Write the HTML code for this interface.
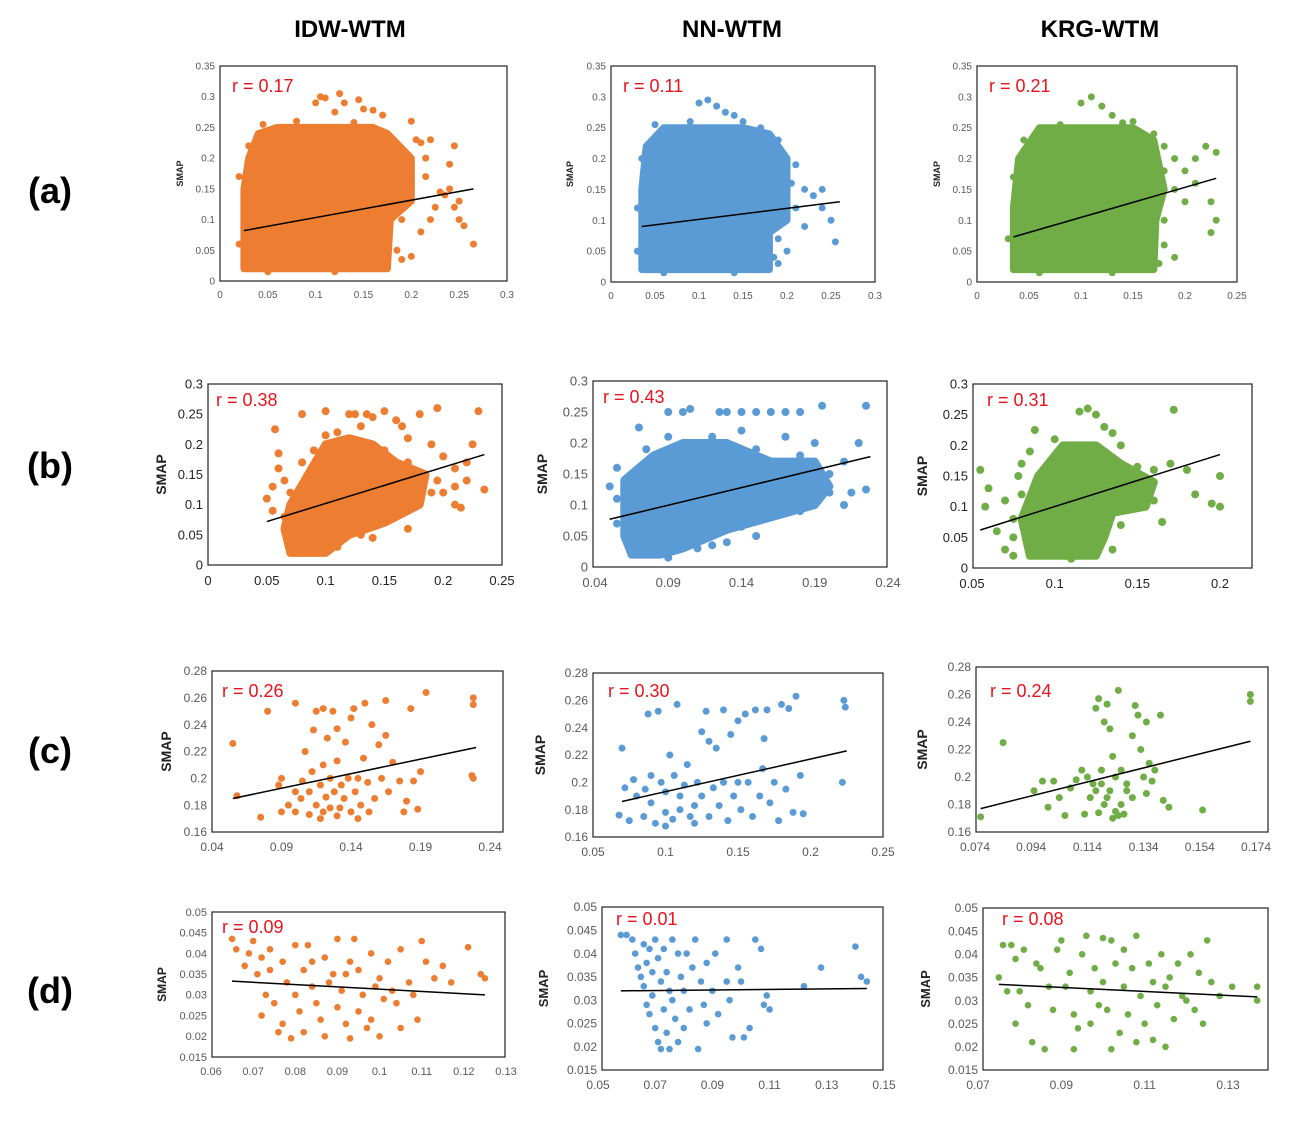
<!DOCTYPE html>
<html><head><meta charset="utf-8"><style>
body{margin:0;background:#fff;}
svg{display:block;font-family:"Liberation Sans",sans-serif;}
</style></head><body>
<svg id="fig" width="1302" height="1131" viewBox="0 0 1302 1131">
<text x="350" y="37" font-size="24" font-weight="bold" text-anchor="middle">IDW-WTM</text>
<text x="732" y="37" font-size="24" font-weight="bold" text-anchor="middle">NN-WTM</text>
<text x="1100" y="37" font-size="24" font-weight="bold" text-anchor="middle">KRG-WTM</text>
<text x="50" y="203" font-size="36" font-weight="bold" text-anchor="middle">(a)</text>
<text x="50" y="478" font-size="36" font-weight="bold" text-anchor="middle">(b)</text>
<text x="50" y="763" font-size="36" font-weight="bold" text-anchor="middle">(c)</text>
<text x="50" y="1003" font-size="36" font-weight="bold" text-anchor="middle">(d)</text>
</svg>
<script>
const ORANGE="#ED7D31",BLUE="#5B9BD5",GREEN="#70AD47";
// ---- data arrays ----
const aIdwHull=[[0.025,0.02],[0.175,0.02],[0.178,0.1],[0.2,0.13],[0.2,0.2],[0.175,0.24],[0.16,0.25],[0.06,0.25],[0.04,0.24],[0.03,0.2],[0.025,0.15]];
const aIdwPts=[[0.1,0.29],[0.105,0.3],[0.11,0.298],[0.125,0.305],[0.13,0.29],[0.145,0.295],[0.15,0.28],[0.16,0.278],[0.17,0.27],[0.12,0.275],[0.2,0.26],[0.21,0.225],[0.22,0.23],[0.215,0.2],[0.23,0.145],[0.24,0.15],[0.245,0.22],[0.24,0.19],[0.25,0.1],[0.255,0.09],[0.245,0.12],[0.25,0.13],[0.265,0.06],[0.22,0.1],[0.21,0.08],[0.2,0.04],[0.19,0.035],[0.235,0.14],[0.225,0.12],[0.215,0.17],[0.025,0.11],[0.025,0.04],[0.02,0.06],[0.02,0.17],[0.03,0.22],[0.045,0.255],[0.08,0.26],[0.14,0.258],[0.185,0.21],[0.2,0.16],[0.19,0.1],[0.185,0.05],[0.175,0.03],[0.05,0.015],[0.12,0.015],[0.205,0.23]];
const aIdwLine=[[0.025,0.082],[0.265,0.15]];
const aNnHull=[[0.035,0.02],[0.18,0.02],[0.18,0.08],[0.2,0.1],[0.2,0.2],[0.18,0.24],[0.15,0.25],[0.06,0.25],[0.04,0.22],[0.035,0.15]];
const aNnPts=[[0.1,0.29],[0.11,0.295],[0.12,0.285],[0.13,0.275],[0.14,0.27],[0.15,0.26],[0.2,0.2],[0.21,0.19],[0.22,0.15],[0.23,0.14],[0.24,0.15],[0.25,0.1],[0.255,0.065],[0.2,0.05],[0.22,0.09],[0.21,0.12],[0.19,0.03],[0.24,0.12],[0.03,0.05],[0.03,0.12],[0.035,0.2],[0.05,0.255],[0.09,0.26],[0.17,0.25],[0.19,0.23],[0.205,0.16],[0.19,0.07],[0.185,0.04],[0.06,0.015],[0.14,0.015]];
const aNnLine=[[0.035,0.09],[0.26,0.13]];
const aKrgHull=[[0.035,0.02],[0.17,0.02],[0.172,0.1],[0.18,0.15],[0.17,0.23],[0.15,0.25],[0.06,0.25],[0.04,0.2],[0.035,0.12]];
const aKrgPts=[[0.1,0.29],[0.11,0.3],[0.12,0.285],[0.13,0.27],[0.15,0.26],[0.17,0.24],[0.18,0.22],[0.19,0.2],[0.2,0.18],[0.21,0.2],[0.22,0.22],[0.23,0.21],[0.225,0.13],[0.23,0.1],[0.225,0.08],[0.2,0.13],[0.19,0.15],[0.21,0.16],[0.18,0.1],[0.19,0.04],[0.035,0.04],[0.04,0.1],[0.03,0.07],[0.035,0.17],[0.045,0.23],[0.08,0.255],[0.14,0.258],[0.18,0.18],[0.18,0.06],[0.175,0.03],[0.06,0.015],[0.13,0.015]];
const aKrgLine=[[0.035,0.073],[0.23,0.168]];
const bIdwHull=[[0.07,0.02],[0.1,0.02],[0.12,0.05],[0.15,0.07],[0.18,0.1],[0.185,0.15],[0.16,0.17],[0.14,0.2],[0.12,0.21],[0.1,0.2],[0.085,0.15],[0.07,0.1],[0.065,0.06]];
const bIdwPts=[[0.05,0.11],[0.055,0.13],[0.06,0.16],[0.057,0.225],[0.06,0.185],[0.055,0.09],[0.065,0.14],[0.08,0.25],[0.1,0.255],[0.12,0.25],[0.125,0.25],[0.135,0.25],[0.14,0.245],[0.15,0.255],[0.16,0.24],[0.165,0.23],[0.17,0.21],[0.18,0.25],[0.195,0.26],[0.19,0.2],[0.2,0.18],[0.21,0.16],[0.21,0.13],[0.21,0.1],[0.215,0.095],[0.22,0.17],[0.22,0.14],[0.225,0.2],[0.23,0.255],[0.235,0.125],[0.2,0.12],[0.195,0.14],[0.14,0.045],[0.17,0.06],[0.11,0.22],[0.13,0.23],[0.065,0.08],[0.07,0.12],[0.08,0.17],[0.09,0.19],[0.1,0.215],[0.15,0.19],[0.17,0.17],[0.19,0.12],[0.16,0.08],[0.13,0.05],[0.11,0.03],[0.075,0.035]];
const bIdwLine=[[0.05,0.072],[0.235,0.183]];
const bNnHull=[[0.065,0.02],[0.085,0.02],[0.1,0.03],[0.13,0.06],[0.16,0.08],[0.19,0.1],[0.2,0.13],[0.19,0.17],[0.16,0.17],[0.13,0.2],[0.1,0.2],[0.08,0.18],[0.06,0.14],[0.06,0.05]];
const bNnPts=[[0.05,0.13],[0.055,0.16],[0.055,0.11],[0.07,0.225],[0.09,0.25],[0.1,0.25],[0.105,0.255],[0.125,0.25],[0.13,0.25],[0.14,0.25],[0.15,0.25],[0.16,0.25],[0.17,0.25],[0.18,0.25],[0.195,0.26],[0.225,0.26],[0.22,0.2],[0.21,0.17],[0.215,0.12],[0.21,0.1],[0.225,0.125],[0.2,0.15],[0.19,0.2],[0.15,0.05],[0.13,0.04],[0.12,0.035],[0.17,0.21],[0.14,0.22],[0.11,0.2],[0.055,0.07],[0.06,0.1],[0.075,0.19],[0.09,0.21],[0.12,0.21],[0.15,0.19],[0.18,0.18],[0.2,0.12],[0.18,0.09],[0.14,0.065],[0.11,0.03],[0.09,0.015]];
const bNnLine=[[0.05,0.077],[0.228,0.178]];
const bKrgHull=[[0.085,0.02],[0.125,0.02],[0.13,0.05],[0.135,0.09],[0.155,0.1],[0.16,0.14],[0.14,0.17],[0.125,0.2],[0.105,0.2],[0.09,0.15],[0.08,0.08]];
const bKrgPts=[[0.055,0.16],[0.06,0.13],[0.058,0.1],[0.065,0.06],[0.075,0.08],[0.078,0.15],[0.08,0.17],[0.088,0.225],[0.07,0.11],[0.12,0.26],[0.115,0.255],[0.125,0.25],[0.13,0.23],[0.135,0.22],[0.14,0.2],[0.15,0.165],[0.16,0.16],[0.17,0.17],[0.172,0.258],[0.18,0.16],[0.185,0.12],[0.2,0.1],[0.2,0.15],[0.195,0.105],[0.165,0.075],[0.135,0.03],[0.07,0.03],[0.075,0.05],[0.08,0.12],[0.085,0.19],[0.1,0.21],[0.13,0.19],[0.15,0.15],[0.16,0.11],[0.14,0.07],[0.075,0.02],[0.11,0.015]];
const bKrgLine=[[0.055,0.062],[0.2,0.185]];
const cIdwPts=[[0.055,0.226],[0.058,0.187],[0.075,0.171],[0.08,0.25],[0.088,0.195],[0.09,0.2],[0.09,0.175],[0.095,0.18],[0.1,0.256],[0.1,0.19],[0.1,0.175],[0.104,0.185],[0.105,0.198],[0.107,0.22],[0.11,0.173],[0.11,0.19],[0.112,0.205],[0.113,0.236],[0.115,0.25],[0.115,0.18],[0.118,0.195],[0.12,0.252],[0.12,0.175],[0.12,0.21],[0.122,0.186],[0.123,0.23],[0.125,0.2],[0.125,0.178],[0.127,0.25],[0.128,0.19],[0.13,0.237],[0.13,0.213],[0.132,0.178],[0.133,0.195],[0.135,0.185],[0.136,0.227],[0.138,0.2],[0.14,0.245],[0.14,0.175],[0.142,0.252],[0.143,0.19],[0.145,0.2],[0.147,0.18],[0.149,0.215],[0.15,0.256],[0.152,0.197],[0.153,0.175],[0.155,0.24],[0.157,0.185],[0.16,0.225],[0.162,0.2],[0.165,0.258],[0.165,0.232],[0.167,0.19],[0.17,0.212],[0.175,0.198],[0.178,0.175],[0.18,0.183],[0.183,0.252],[0.185,0.198],[0.188,0.177],[0.19,0.205],[0.194,0.264],[0.228,0.26],[0.228,0.255],[0.227,0.202],[0.228,0.2],[0.118,0.17],[0.13,0.172],[0.145,0.17]];
const cIdwLine=[[0.055,0.185],[0.23,0.223]];
const cNnPts=[[0.068,0.176],[0.07,0.225],[0.072,0.196],[0.075,0.172],[0.078,0.202],[0.08,0.19],[0.085,0.175],[0.086,0.195],[0.088,0.25],[0.09,0.185],[0.093,0.17],[0.095,0.252],[0.097,0.2],[0.1,0.178],[0.1,0.193],[0.103,0.22],[0.105,0.173],[0.106,0.205],[0.108,0.257],[0.11,0.19],[0.11,0.18],[0.113,0.198],[0.115,0.213],[0.117,0.175],[0.12,0.183],[0.122,0.2],[0.125,0.237],[0.125,0.19],[0.128,0.252],[0.13,0.23],[0.13,0.175],[0.133,0.196],[0.135,0.225],[0.137,0.183],[0.14,0.253],[0.14,0.2],[0.143,0.172],[0.145,0.235],[0.147,0.19],[0.15,0.245],[0.15,0.2],[0.152,0.18],[0.155,0.25],[0.157,0.2],[0.16,0.175],[0.162,0.253],[0.165,0.19],[0.167,0.21],[0.168,0.232],[0.17,0.253],[0.172,0.185],[0.175,0.2],[0.178,0.172],[0.18,0.257],[0.183,0.195],[0.185,0.254],[0.188,0.178],[0.19,0.263],[0.193,0.205],[0.195,0.177],[0.223,0.26],[0.224,0.255],[0.222,0.2],[0.12,0.17],[0.09,0.205],[0.1,0.168]];
const cNnLine=[[0.07,0.186],[0.225,0.223]];
const cKrgPts=[[0.076,0.171],[0.084,0.225],[0.095,0.19],[0.098,0.197],[0.1,0.178],[0.102,0.197],[0.104,0.185],[0.106,0.172],[0.108,0.192],[0.11,0.198],[0.112,0.205],[0.113,0.173],[0.115,0.185],[0.116,0.195],[0.117,0.25],[0.118,0.257],[0.118,0.174],[0.119,0.205],[0.12,0.24],[0.12,0.18],[0.121,0.253],[0.122,0.19],[0.122,0.235],[0.123,0.215],[0.124,0.175],[0.124,0.2],[0.125,0.263],[0.126,0.205],[0.126,0.18],[0.127,0.173],[0.128,0.19],[0.128,0.195],[0.13,0.23],[0.13,0.185],[0.131,0.252],[0.132,0.245],[0.133,0.22],[0.134,0.2],[0.135,0.188],[0.135,0.24],[0.136,0.21],[0.137,0.197],[0.138,0.205],[0.14,0.245],[0.141,0.183],[0.143,0.178],[0.155,0.176],[0.172,0.26],[0.172,0.255],[0.119,0.195],[0.121,0.185],[0.123,0.17],[0.117,0.19],[0.114,0.2],[0.125,0.172]];
const cKrgLine=[[0.076,0.177],[0.172,0.226]];
const dIdwPts=[[0.065,0.0435],[0.066,0.041],[0.068,0.037],[0.069,0.04],[0.07,0.043],[0.071,0.035],[0.072,0.039],[0.072,0.025],[0.073,0.03],[0.074,0.041],[0.074,0.036],[0.075,0.028],[0.076,0.021],[0.077,0.038],[0.077,0.023],[0.078,0.033],[0.079,0.0195],[0.08,0.03],[0.08,0.042],[0.081,0.026],[0.082,0.036],[0.082,0.021],[0.083,0.042],[0.084,0.032],[0.085,0.028],[0.086,0.024],[0.087,0.039],[0.087,0.02],[0.088,0.033],[0.089,0.035],[0.09,0.0435],[0.09,0.027],[0.091,0.031],[0.092,0.023],[0.093,0.038],[0.093,0.0195],[0.094,0.0435],[0.095,0.036],[0.095,0.026],[0.096,0.03],[0.097,0.022],[0.098,0.04],[0.098,0.024],[0.099,0.032],[0.1,0.02],[0.1,0.034],[0.101,0.029],[0.102,0.038],[0.103,0.031],[0.104,0.028],[0.105,0.041],[0.105,0.022],[0.107,0.033],[0.108,0.03],[0.109,0.024],[0.11,0.043],[0.111,0.038],[0.113,0.034],[0.115,0.037],[0.117,0.033],[0.121,0.0415],[0.124,0.035],[0.125,0.034],[0.084,0.038],[0.092,0.035]];
const dIdwLine=[[0.065,0.0333],[0.125,0.030]];
const dNnPts=[[0.058,0.044],[0.06,0.044],[0.062,0.043],[0.063,0.04],[0.064,0.037],[0.065,0.035],[0.066,0.042],[0.066,0.033],[0.067,0.038],[0.067,0.029],[0.068,0.041],[0.068,0.027],[0.069,0.036],[0.069,0.031],[0.07,0.043],[0.07,0.024],[0.071,0.039],[0.071,0.021],[0.072,0.034],[0.072,0.0195],[0.073,0.041],[0.073,0.028],[0.074,0.036],[0.074,0.023],[0.075,0.032],[0.075,0.0195],[0.076,0.043],[0.076,0.03],[0.077,0.026],[0.078,0.04],[0.078,0.021],[0.079,0.035],[0.08,0.032],[0.08,0.024],[0.081,0.04],[0.082,0.028],[0.083,0.037],[0.084,0.043],[0.085,0.0195],[0.086,0.034],[0.087,0.029],[0.088,0.038],[0.09,0.032],[0.091,0.04],[0.092,0.027],[0.095,0.034],[0.096,0.03],[0.097,0.022],[0.099,0.037],[0.1,0.034],[0.101,0.022],[0.103,0.024],[0.105,0.043],[0.107,0.041],[0.108,0.029],[0.109,0.031],[0.11,0.028],[0.122,0.033],[0.128,0.037],[0.14,0.0415],[0.142,0.035],[0.144,0.034],[0.095,0.043],[0.088,0.025]];
const dNnLine=[[0.058,0.032],[0.144,0.0325]];
const dKrgPts=[[0.075,0.035],[0.076,0.042],[0.077,0.032],[0.078,0.042],[0.079,0.039],[0.079,0.025],[0.08,0.032],[0.081,0.041],[0.082,0.029],[0.083,0.021],[0.084,0.038],[0.085,0.037],[0.086,0.0195],[0.087,0.033],[0.088,0.028],[0.089,0.041],[0.09,0.043],[0.091,0.033],[0.092,0.036],[0.093,0.027],[0.093,0.0195],[0.094,0.024],[0.095,0.04],[0.096,0.044],[0.097,0.032],[0.097,0.025],[0.098,0.037],[0.099,0.029],[0.1,0.0435],[0.1,0.034],[0.101,0.028],[0.102,0.043],[0.102,0.0195],[0.103,0.038],[0.104,0.023],[0.105,0.033],[0.105,0.041],[0.106,0.027],[0.107,0.037],[0.108,0.021],[0.108,0.044],[0.109,0.031],[0.11,0.025],[0.111,0.038],[0.112,0.034],[0.112,0.0215],[0.113,0.029],[0.114,0.04],[0.115,0.02],[0.115,0.033],[0.116,0.035],[0.117,0.026],[0.118,0.038],[0.119,0.031],[0.12,0.03],[0.121,0.04],[0.122,0.028],[0.123,0.036],[0.124,0.025],[0.125,0.043],[0.126,0.034],[0.128,0.031],[0.131,0.033],[0.137,0.033],[0.137,0.03]];
const dKrgLine=[[0.075,0.0335],[0.137,0.0308]];
// tick label arrays
const xTicksA1=["0","0.05","0.1","0.15","0.2","0.25","0.3"];
const xTicksA3=["0","0.05","0.1","0.15","0.2","0.25"];
const yTicksA=["0","0.05","0.1","0.15","0.2","0.25","0.3","0.35"];
const xTicksB1=["0","0.05","0.1","0.15","0.2","0.25"];
const xTicksB2=["0.04","0.09","0.14","0.19","0.24"];
const xTicksB3=["0.05","0.1","0.15","0.2"];
const yTicksB=["0","0.05","0.1","0.15","0.2","0.25","0.3"];
const xTicksC1=["0.04","0.09","0.14","0.19","0.24"];
const xTicksC2=["0.05","0.1","0.15","0.2","0.25"];
const xTicksC3=["0.074","0.094","0.114","0.134","0.154","0.174"];
const yTicksC=["0.16","0.18","0.2","0.22","0.24","0.26","0.28"];
const xTicksD1=["0.06","0.07","0.08","0.09","0.1","0.11","0.12","0.13"];
const xTicksD2=["0.05","0.07","0.09","0.11","0.13","0.15"];
const xTicksD3=["0.07","0.09","0.11","0.13"];
const yTicksD=["0.015","0.02","0.025","0.03","0.035","0.04","0.045","0.05"];
const rValues=["0.17","0.11","0.21","0.38","0.43","0.31","0.26","0.30","0.24","0.09","0.01","0.08"];

const plots=[
 {id:"a-idw",box:[220,66,507,281],xr:[0,0.3],xp:[220,507],yr:[0,0.35],xt:xTicksA1,yt:yTicksA,col:ORANGE,hull:aIdwHull,pts:aIdwPts,line:aIdwLine,r:rValues[0],rp:[232,92],fs:10,ls:9,sx:183,pr:3.5,lab:"#595959"},
 {id:"a-nn",box:[611,66,875,282],xr:[0,0.3],xp:[611,875],yr:[0,0.35],xt:xTicksA1,yt:yTicksA,col:BLUE,hull:aNnHull,pts:aNnPts,line:aNnLine,r:rValues[1],rp:[623,92],fs:10,ls:9,sx:573,pr:3.5,lab:"#595959"},
 {id:"a-krg",box:[977,66,1237,282],xr:[0,0.25],xp:[977,1237],yr:[0,0.35],xt:xTicksA3,yt:yTicksA,col:GREEN,hull:aKrgHull,pts:aKrgPts,line:aKrgLine,r:rValues[2],rp:[989,92],fs:10,ls:9,sx:940,pr:3.5,lab:"#595959"},
 {id:"b-idw",box:[208,384,502,565],xr:[0,0.25],xp:[208,502],yr:[0,0.3],xt:xTicksB1,yt:yTicksB,col:ORANGE,hull:bIdwHull,pts:bIdwPts,line:bIdwLine,r:rValues[3],rp:[216,406],fs:13,ls:14,sx:166,pr:4,lab:"#222"},
 {id:"b-nn",box:[593,381,887,567],xr:[0.04,0.24],xp:[595,888],yr:[0,0.3],xt:xTicksB2,yt:yTicksB,col:BLUE,hull:bNnHull,pts:bNnPts,line:bNnLine,r:rValues[4],rp:[603,403],fs:13,ls:14,sx:547,pr:4,lab:"#595959"},
 {id:"b-krg",box:[973,384,1252,568],xr:[0.05,0.2],xp:[972,1220],yr:[0,0.3],xt:xTicksB3,yt:yTicksB,col:GREEN,hull:bKrgHull,pts:bKrgPts,line:bKrgLine,r:rValues[5],rp:[987,406],fs:13,ls:14,sx:927,pr:4,lab:"#222"},
 {id:"c-idw",box:[212,671,503,832],xr:[0.04,0.24],xp:[212,490],yr:[0.16,0.28],xt:xTicksC1,yt:yTicksC,col:ORANGE,hull:null,pts:cIdwPts,line:cIdwLine,r:rValues[6],rp:[222,697],fs:12,ls:14,sx:171,pr:3.5,lab:"#595959"},
 {id:"c-nn",box:[593,673,883,837],xr:[0.05,0.25],xp:[593,883],yr:[0.16,0.28],xt:xTicksC2,yt:yTicksC,col:BLUE,hull:null,pts:cNnPts,line:cNnLine,r:rValues[7],rp:[608,697],fs:12,ls:14,sx:545,pr:3.5,lab:"#595959"},
 {id:"c-krg",box:[976,667,1268,832],xr:[0.074,0.174],xp:[975,1256],yr:[0.16,0.28],xt:xTicksC3,yt:yTicksC,col:GREEN,hull:null,pts:cKrgPts,line:cKrgLine,r:rValues[8],rp:[990,697],fs:12,ls:14,sx:927,pr:3.5,lab:"#595959"},
 {id:"d-idw",box:[212,912,505,1057],xr:[0.06,0.13],xp:[211,506],yr:[0.015,0.05],xt:xTicksD1,yt:yTicksD,col:ORANGE,hull:null,pts:dIdwPts,line:dIdwLine,r:rValues[9],rp:[222,933],fs:11,ls:12,sx:166,pr:3.3,lab:"#595959"},
 {id:"d-nn",box:[602,907,883,1070],xr:[0.05,0.15],xp:[598,884],yr:[0.015,0.05],xt:xTicksD2,yt:yTicksD,col:BLUE,hull:null,pts:dNnPts,line:dNnLine,r:rValues[10],rp:[616,925],fs:12,ls:13,sx:548,pr:3.3,lab:"#595959"},
 {id:"d-krg",box:[983,908,1268,1070],xr:[0.07,0.13],xp:[978,1228],yr:[0.015,0.05],xt:xTicksD3,yt:yTicksD,col:GREEN,hull:null,pts:dKrgPts,line:dKrgLine,r:rValues[11],rp:[1002,925],fs:12,ls:13,sx:930,pr:3.3,lab:"#595959"}
];
const NS="http://www.w3.org/2000/svg";
const svg=document.getElementById("fig");
function mk(tag,attrs,parent){const e=document.createElementNS(NS,tag);for(const k in attrs)e.setAttribute(k,attrs[k]);parent.appendChild(e);return e;}
plots.forEach(p=>{
 const [l,t,r,b]=p.box;
 const xs=v=>p.xp[0]+(v-p.xr[0])/(p.xr[1]-p.xr[0])*(p.xp[1]-p.xp[0]);
 const ys=v=>b-(v-p.yr[0])/(p.yr[1]-p.yr[0])*(b-t);
 const g=mk("g",{},svg);
 
 
 const frame=mk("rect",{x:l,y:t,width:r-l,height:b-t,fill:"#fff",stroke:"#222","stroke-width":1.2},g);
 
 
 p.yt.forEach((s,i)=>{
  const v=parseFloat(s);
  const tx=mk("text",{x:l-5,y:ys(v)+p.fs*0.35,"font-size":p.fs,fill:p.lab,"text-anchor":"end"},g);
  tx.textContent=s;
  
  
 });
 p.xt.forEach((s,i)=>{
  const v=parseFloat(s);
  const tx=mk("text",{x:xs(v),y:b+p.fs+7,"font-size":p.fs,fill:p.lab,"text-anchor":"middle"},g);
  tx.textContent=s;
  
  
 });
 const yl=mk("text",{x:p.sx,y:(t+b)/2,"font-size":p.ls,"font-weight":"bold",fill:"#222","text-anchor":"middle",transform:`rotate(-90 ${p.sx} ${(t+b)/2})`},g);
 yl.textContent="SMAP";
 
 
 if(p.hull){
  const poly=mk("polygon",{points:p.hull.map(q=>xs(q[0])+","+ys(q[1])).join(" "),fill:p.col,stroke:p.col,"stroke-width":p.pr*2,"stroke-linejoin":"round"},g);
  
  
 }
 p.pts.forEach(q=>{
  const c=mk("circle",{cx:xs(q[0]),cy:ys(q[1]),r:p.pr,fill:p.col},g);
  
  
 });
 const ln=mk("line",{x1:xs(p.line[0][0]),y1:ys(p.line[0][1]),x2:xs(p.line[1][0]),y2:ys(p.line[1][1]),stroke:"#000","stroke-width":1.5},g);
 
 
 const rt=mk("text",{x:p.rp[0],y:p.rp[1],"font-size":18,fill:"#E8141C"},g);
 rt.textContent="r = "+p.r;
 
 
});
</script>
</body></html>
